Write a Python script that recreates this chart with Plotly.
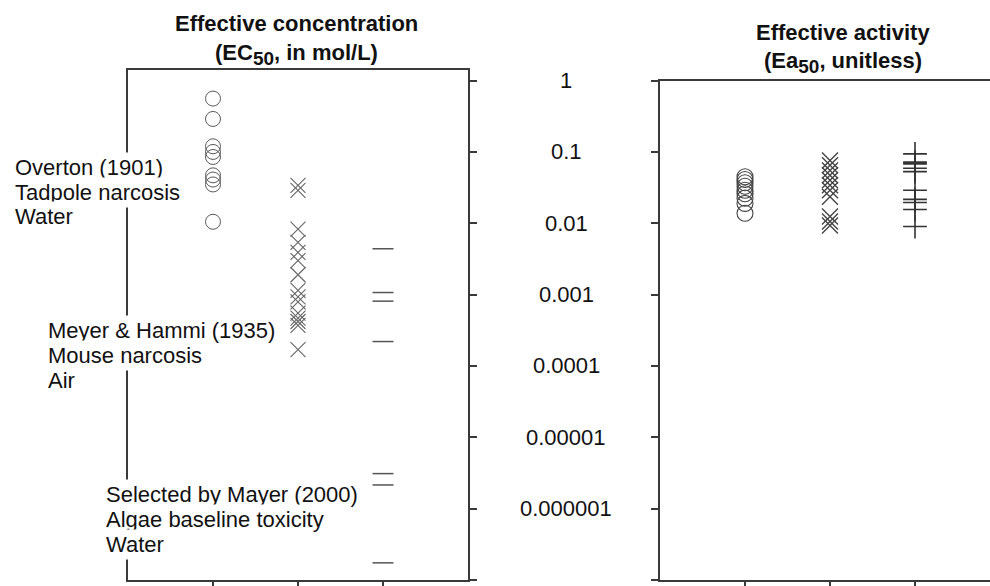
import plotly.graph_objects as go
import math

# ---------------- data ----------------
# Effective concentration EC50 (mol/L)
overton_ec50 = [0.56, 0.29, 0.12, 0.10, 0.085, 0.047, 0.041, 0.035, 0.0105]
meyer_ec50 = [0.034, 0.029, 0.0083, 0.0054, 0.0039, 0.0030, 0.0019, 0.00115,
              0.00093, 0.00079, 0.00055, 0.00047, 0.00042, 0.00037, 0.00017]
mayer_ec50 = [0.0044, 0.00107, 0.00081, 0.00022, 3.1e-6, 2.15e-6, 1.74e-7]

# Effective activity Ea50 (unitless)
overton_ea50 = [0.045, 0.041, 0.037, 0.033, 0.029, 0.026, 0.0225, 0.019, 0.0138]
meyer_ea50 = [0.076, 0.065, 0.055, 0.047, 0.040, 0.034, 0.029, 0.0235,
              0.0124, 0.0106, 0.0093]
mayer_ea50 = [0.094, 0.072, 0.068, 0.059, 0.053, 0.029, 0.0216, 0.0196,
              0.0156, 0.009]

tick_values = [1, 0.1, 0.01, 0.001, 0.0001, 0.00001, 0.000001, 0.0000001]
tick_labels = ["1", "0.1", "0.01", "0.001", "0.0001", "0.00001", "0.000001"]

SUB = "<sub><span style='font-size:19px'>50</span></sub>"
left_title = ["Effective concentration", f"(EC{SUB}, in mol/L)"]
right_title = ["Effective activity", f"(Ea{SUB}, unitless)"]

group_labels = [
    ["Overton (1901)", "Tadpole narcosis", "Water"],
    ["Meyer & Hammi (1935)", "Mouse narcosis", "Air"],
    ["Selected by Mayer (2000)", "Algae baseline toxicity", "Water"],
]

# ---------------- layout helpers ----------------
W, H = 990, 586
FONT = "Liberation Sans, Arial, Helvetica, sans-serif"
AXC = "#3a3a3a"

def px_x(x):
    return x / W

def px_y(y):
    return 1 - y / H

fig = go.Figure()

# left panel
fig.add_trace(go.Scatter(x=[1] * len(overton_ec50), y=overton_ec50, mode="markers",
                         marker=dict(symbol="circle-open", size=15, color="#5a5a5a",
                                     line=dict(width=1, color="#5a5a5a")),
                         xaxis="x", yaxis="y", showlegend=False))
fig.add_trace(go.Scatter(x=[2] * len(meyer_ec50), y=meyer_ec50, mode="markers",
                         marker=dict(symbol="x-thin-open", size=15, color="#666",
                                     line=dict(width=1.1, color="#666")),
                         xaxis="x", yaxis="y", showlegend=False))
fig.add_trace(go.Scatter(x=[3] * len(mayer_ec50), y=mayer_ec50, mode="markers",
                         marker=dict(symbol="line-ew-open", size=15, color="#555",
                                     line=dict(width=1.5, color="#555")),
                         xaxis="x", yaxis="y", showlegend=False))

# right panel
fig.add_trace(go.Scatter(x=[1] * len(overton_ea50), y=overton_ea50, mode="markers",
                         marker=dict(symbol="circle-open", size=16, color="#444",
                                     line=dict(width=1.1, color="#444")),
                         xaxis="x2", yaxis="y2", showlegend=False))
fig.add_trace(go.Scatter(x=[2] * len(meyer_ea50), y=meyer_ea50, mode="markers",
                         marker=dict(symbol="x-thin-open", size=16, color="#444",
                                     line=dict(width=1.4, color="#444")),
                         xaxis="x2", yaxis="y2", showlegend=False))
fig.add_trace(go.Scatter(x=[3] * len(mayer_ea50), y=mayer_ea50, mode="markers",
                         marker=dict(symbol="cross-thin-open", size=17, color="#333",
                                     line=dict(width=1.6, color="#333")),
                         xaxis="x2", yaxis="y2", showlegend=False))

# panel geometry (pixels)
L_x0, L_x1 = 128, 468
R_x0 = 660
top_L, top_R, bottom = 70, 81, 583
dec_px = (bottom - top_R) / 7.0
left_top_log = (bottom - top_L) / dec_px - 7

common_x = dict(showline=True, linecolor=AXC, linewidth=2, mirror=True,
                tickvals=[1, 2, 3], ticks="outside", ticklen=6, tickcolor=AXC,
                tickwidth=1.5, showticklabels=False, showgrid=False, zeroline=False)
common_y = dict(type="log", showline=True, linecolor=AXC, linewidth=2,
                tickvals=tick_values, ticks="outside", ticklen=7, tickcolor=AXC,
                tickwidth=1.5, showticklabels=False, showgrid=False, zeroline=False)

fig.update_layout(
    width=W, height=H,
    margin=dict(l=0, r=0, t=0, b=0),
    paper_bgcolor="white", plot_bgcolor="white",
    font=dict(family=FONT, size=22, color="#111"),
    xaxis=dict(domain=[px_x(L_x0), px_x(L_x1)], range=[0, 4], anchor="y", **common_x),
    yaxis=dict(domain=[px_y(bottom), px_y(top_L)], range=[-7, left_top_log],
               anchor="x", side="right", mirror=True, **common_y),
    xaxis2=dict(domain=[px_x(R_x0), 1.0], range=[0, (W - R_x0) / ((L_x1 - L_x0) / 4)],
                anchor="y2", **common_x),
    yaxis2=dict(domain=[px_y(bottom), px_y(top_R)], range=[-7, 0],
                anchor="x2", side="left", mirror=False, **common_y),
)

annotations = []
# tick labels, centred between the panels
for v, lab in zip(tick_values, tick_labels):
    annotations.append(dict(x=px_x(566), xref="paper", y=math.log10(v), yref="y2",
                            text=lab, showarrow=False, xanchor="center",
                            yanchor="middle", font=dict(size=22, color="#111")))

# titles
for i, line in enumerate(left_title):
    annotations.append(dict(x=px_x(296), xref="paper", y=px_y([24, 55][i]), yref="paper",
                            text=f"<b>{line}</b>", showarrow=False, xanchor="center",
                            yanchor="middle", font=dict(size=22, color="#111")))
for i, line in enumerate(right_title):
    annotations.append(dict(x=px_x(843), xref="paper", y=px_y([33, 63][i]), yref="paper",
                            text=f"<b>{line}</b>", showarrow=False, xanchor="center",
                            yanchor="middle", font=dict(size=22, color="#111")))

# group labels (white background hides the axis line behind them)
label_pos = [(12, 168), (45, 332), (103, 497)]
for (x0, y0), lines in zip(label_pos, group_labels):
    for j, line in enumerate(lines):
        annotations.append(dict(x=px_x(x0), xref="paper", y=px_y(y0 + 25 * j), yref="paper",
                                text=line, showarrow=False, xanchor="left",
                                yanchor="middle", bgcolor="white", borderpad=2,
                                font=dict(size=22, color="#111")))

fig.update_layout(annotations=annotations)

fig.write_html("out.html")
